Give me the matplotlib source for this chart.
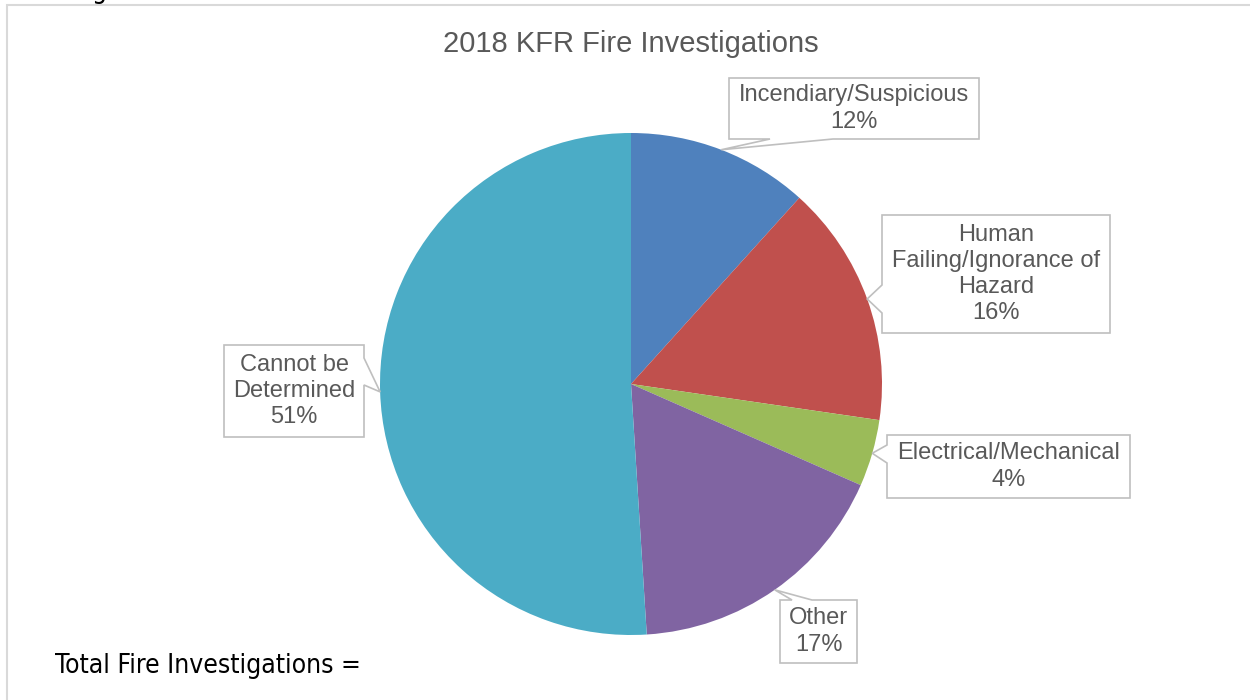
import numpy as np
import matplotlib
matplotlib.use('Agg')
import matplotlib.pyplot as plt
from matplotlib.patches import Polygon, Rectangle

# data
categories = ['Incendiary/Suspicious', 'Human\nFailing/Ignorance of\nHazard', 'Electrical/Mechanical',
              'Other', 'Cannot be\nDetermined']
shares = [11.7, 15.6, 4.3, 17.4, 51.0]
colors = ['#4F81BD', '#C0504D', '#9BBB59', '#8064A2', '#4BACC6']
title = '2018 KFR Fire Investigations'
footer = 'Total Fire Investigations ='

W, H = 1250, 700
fig = plt.figure(figsize=(W / 100, H / 100), dpi=100)
fig.patch.set_facecolor('white')

def fx(x):
    return x / W

def fy(y):
    return 1 - y / H

# chart border (runs off the right and bottom)
fig.patches.append(Rectangle((fx(7), fy(715)), fx(1260) - fx(7), fy(5) - fy(715),
                             transform=fig.transFigure, fill=False, ec='#D9D9D9', lw=1.5))

# pie axes: centre (631, 384), radius 251 px
cx, cy, r = 631, 384, 251
ax = fig.add_axes([fx(cx - r), fy(cy + r), 2 * r / W, 2 * r / H])
ax.pie(shares, colors=colors, startangle=90, counterclock=False, radius=1,
       wedgeprops=dict(linewidth=0))
ax.set_xlim(-1, 1)
ax.set_ylim(-1, 1)
ax.axis('off')

fig.text(fx(631), fy(44), title, ha='center', va='center', fontsize=21,
         color='#595959', family='Liberation Sans')

# label callouts: box (x0, y0, x1, y1), pointer side, pointer base
boxes = [
    ((729, 78, 979, 139), 'bottom', (770, 833)),
    ((882, 215, 1110, 333), 'left', (285, 313)),
    ((887, 435, 1130, 498), 'left', (445, 463)),
    ((780, 600, 857, 663), 'top', (792, 812)),
    ((224, 345, 364, 437), 'right', (358, 385)),
]

total = sum(shares)
cum = np.cumsum([0] + shares[:-1])
for i, (cat, val) in enumerate(zip(categories, shares)):
    mid = np.deg2rad(90 - 360 * (cum[i] + val / 2) / total)
    px, py = ax.transData.transform((np.cos(mid), np.sin(mid)))
    a = (px, H - py)
    (x0, y0, x1, y1), side, (b0, b1) = boxes[i]
    pts = [(x0, y0)]
    if side == 'top':
        pts += [(b0, y0), a, (b1, y0)]
    pts += [(x1, y0)]
    if side == 'right':
        pts += [(x1, b0), a, (x1, b1)]
    pts += [(x1, y1)]
    if side == 'bottom':
        pts += [(b1, y1), a, (b0, y1)]
    pts += [(x0, y1)]
    if side == 'left':
        pts += [(x0, b1), a, (x0, b0)]
    poly = Polygon([(fx(x), fy(y)) for x, y in pts], closed=True, transform=fig.transFigure,
                   fc='white', ec='#BFBFBF', lw=1.2)
    fig.patches.append(poly)
    fig.text(fx((x0 + x1) / 2), fy((y0 + y1) / 2), f'{cat}\n{round(val)}%',
             ha='center', va='center', fontsize=17, color='#595959',
             family='Liberation Sans', linespacing=1.25)

fig.text(fx(55), fy(666), footer, ha='left', va='center', fontsize=19,
         color='black', family='DejaVu Sans', fontstretch='condensed')

# clipped heading fragment above the chart
fig.text(fx(92), fy(-2), 'g', ha='left', va='baseline', fontsize=19,
         color='black', family='DejaVu Sans', fontstretch='condensed')

fig.savefig('out.png', dpi=100, facecolor='white')
